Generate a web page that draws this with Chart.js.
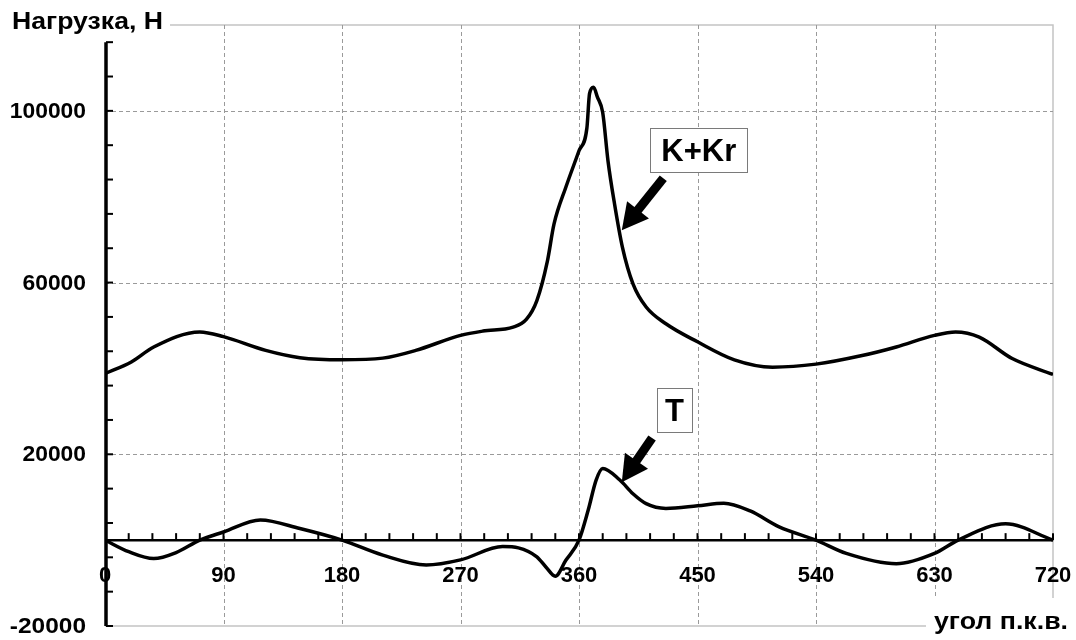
<!DOCTYPE html>
<html lang="ru">
<head>
<meta charset="UTF-8">
<title>Нагрузка, Н</title>
<style>
  html, body { margin: 0; padding: 0; background: #fff; }
  #wrap { width: 1076px; height: 640px; }
</style>
</head>
<body>
<div id="wrap"><canvas id="chart" width="1076" height="640"></canvas></div>

<script src="https://cdn.jsdelivr.net/npm/chart.js"></script>
<script>
// кривая K+Kr (угол п.к.в., градусы / нагрузка, Н)
const anglesKK = [0, 20, 37, 72, 90, 122, 148, 180, 211, 236, 270, 287, 310, 320, 328, 336, 341, 350, 360, 366, 368, 371, 374, 378, 382, 387, 393, 401, 411, 426, 450, 478, 507, 540, 575, 601, 630, 646, 664, 689, 720];
const valuesKK = [38800, 41500, 45000, 48500, 47400, 44200, 42500, 42000, 42400, 44200, 47700, 48700, 49600, 51400, 55800, 65000, 73600, 82200, 90700, 96000, 104000, 105500, 103200, 99600, 88400, 78300, 68200, 59700, 54300, 50400, 46200, 42000, 40300, 41000, 43000, 45000, 47700, 48500, 47300, 42300, 38600];

// кривая T
const anglesT = [0, 18, 37, 54, 72, 90, 118, 148, 180, 211, 244, 270, 302, 314, 328, 335, 342, 350, 360, 367, 373, 378, 391, 401, 411, 426, 450, 470, 490, 512, 540, 563, 601, 630, 648, 684, 720];
const valuesT = [0, -2700, -4300, -2900, 0, 1900, 4700, 2700, 0, -3500, -5800, -4600, -1500, -1800, -3900, -6300, -8400, -4700, 0, 7000, 14000, 16700, 14000, 10800, 8500, 7400, 8000, 8600, 6800, 3100, 0, -3100, -5500, -3100, 0, 3800, 0];

// оси
const xMin = 0, xMax = 720;
const yMin = -20000, yMax = 120000, yAxisTop = 116000;
const xTickLabels = [0, 90, 180, 270, 360, 450, 540, 630, 720];
const xGridValues = [90, 180, 270, 360, 450, 540, 630];
const yTickLabels = [-20000, 20000, 60000, 100000];
const yGridValues = [20000, 60000, 100000];
const xMinorStep = 18;
const yMinorStep = 8000;

// подписи
const yTitle = 'Нагрузка, Н';
const xTitle = 'угол п.к.в.';
const callouts = [
    { text: 'K+Kr', box: { x: 451, y: 90800 }, w: 97, h: 44, font: 31, from: { x: 424, y: 84300 }, to: { x: 392.5, y: 72200 } },
    { text: 'T', box: { x: 432.5, y: 30300 }, w: 35, h: 44, font: 31, from: { x: 415.5, y: 23800 }, to: { x: 392.5, y: 13500 } }
];

const FONT = '"Liberation Sans", Arial, sans-serif';

function toPoints(xs, ys) {
    return xs.map((x, i) => ({ x: x, y: ys[i] }));
}

// текст, растянутый по ширине
function fillWide(ctx, text, x, y, width, align) {
    const w = ctx.measureText(text).width;
    const k = width / w;
    ctx.save();
    ctx.textAlign = 'left';
    const left = align === 'right' ? x - width : x;
    ctx.translate(left, y);
    ctx.scale(k, 1);
    ctx.fillText(text, 0, 0);
    ctx.restore();
}

function drawArrow(ctx, x1, y1, x2, y2) {
    const ang = Math.atan2(y2 - y1, x2 - x1);
    const headLen = 26, headW = 14;
    const bx = x2 - headLen * Math.cos(ang);
    const by = y2 - headLen * Math.sin(ang);
    ctx.strokeStyle = '#000';
    ctx.fillStyle = '#000';
    ctx.lineWidth = 9;
    ctx.lineCap = 'butt';
    ctx.beginPath();
    ctx.moveTo(x1, y1);
    ctx.lineTo(bx + Math.cos(ang), by + Math.sin(ang));
    ctx.stroke();
    ctx.beginPath();
    ctx.moveTo(x2, y2);
    ctx.lineTo(bx + headW * Math.sin(ang), by - headW * Math.cos(ang));
    ctx.lineTo(bx - headW * Math.sin(ang), by + headW * Math.cos(ang));
    ctx.closePath();
    ctx.fill();
}

// сетка и рамка под кривыми, оси и подписи поверх
const gridPlugin = {
    id: 'gridPlugin',
    beforeDatasetsDraw(chart) {
        const ctx = chart.ctx;
        const area = chart.chartArea;
        const xs = chart.scales.x, ys = chart.scales.y;
        ctx.save();
        // рамка
        ctx.strokeStyle = '#c4c4c4';
        ctx.lineWidth = 1.5;
        ctx.setLineDash([]);
        ctx.beginPath();
        ctx.moveTo(area.left, area.top);
        ctx.lineTo(area.right, area.top);
        ctx.lineTo(area.right, area.bottom);
        ctx.lineTo(area.left, area.bottom);
        ctx.stroke();
        // пунктирная сетка
        ctx.strokeStyle = '#9a9a9a';
        ctx.lineWidth = 1;
        ctx.setLineDash([4, 3]);
        xGridValues.forEach(v => {
            const px = Math.round(xs.getPixelForValue(v)) + 0.5;
            ctx.beginPath();
            ctx.moveTo(px, area.top);
            ctx.lineTo(px, area.bottom);
            ctx.stroke();
        });
        yGridValues.forEach(v => {
            const py = Math.round(ys.getPixelForValue(v)) + 0.5;
            ctx.beginPath();
            ctx.moveTo(area.left, py);
            ctx.lineTo(area.right, py);
            ctx.stroke();
        });
        ctx.restore();
    },
    afterDatasetsDraw(chart) {
        const ctx = chart.ctx;
        const xs = chart.scales.x, ys = chart.scales.y;
        const x0 = xs.getPixelForValue(xMin);
        const y0 = ys.getPixelForValue(0);
        ctx.save();
        ctx.setLineDash([]);
        ctx.strokeStyle = '#000';

        // ось X по нулю
        ctx.lineWidth = 2.5;
        ctx.beginPath();
        ctx.moveTo(x0, y0);
        ctx.lineTo(xs.getPixelForValue(xMax), y0);
        ctx.stroke();
        ctx.lineWidth = 2;
        for (let v = xMin + xMinorStep; v <= xMax; v += xMinorStep) {
            const px = xs.getPixelForValue(v);
            ctx.beginPath();
            ctx.moveTo(px, y0);
            ctx.lineTo(px, y0 - 7);
            ctx.stroke();
        }

        // ось Y
        ctx.lineWidth = 3.5;
        ctx.beginPath();
        ctx.moveTo(x0 + 1, ys.getPixelForValue(yAxisTop));
        ctx.lineTo(x0 + 1, ys.getPixelForValue(yMin));
        ctx.stroke();
        ctx.lineWidth = 2;
        for (let v = yMin; v <= yAxisTop; v += yMinorStep) {
            const py = ys.getPixelForValue(v);
            ctx.beginPath();
            ctx.moveTo(x0 + 1, py);
            ctx.lineTo(x0 + 8, py);
            ctx.stroke();
        }

        // подписи делений
        ctx.fillStyle = '#000';
        ctx.font = 'bold 22px ' + FONT;
        ctx.textBaseline = 'middle';
        yTickLabels.forEach(v => {
            const s = String(v);
            fillWide(ctx, s, 86, ys.getPixelForValue(v) + 1, s.length * 12.7, 'right');
        });
        ctx.textAlign = 'center';
        xTickLabels.forEach(v => {
            ctx.fillText(String(v), xs.getPixelForValue(v), y0 + 36);
        });

        // заголовок оси Y
        ctx.fillStyle = '#fff';
        ctx.fillRect(0, 0, 170, 40);
        ctx.fillStyle = '#000';
        ctx.font = 'bold 23px ' + FONT;
        ctx.textBaseline = 'alphabetic';
        fillWide(ctx, yTitle, 12, 29, 151, 'left');

        // заголовок оси X
        ctx.fillStyle = '#fff';
        ctx.fillRect(926, 598, 150, 42);
        ctx.fillStyle = '#000';
        ctx.font = 'bold 24px ' + FONT;
        fillWide(ctx, xTitle, 1068, 629, 134, 'right');

        // выноски
        callouts.forEach(c => {
            const cx = xs.getPixelForValue(c.box.x);
            const cy = ys.getPixelForValue(c.box.y);
            ctx.fillStyle = '#fff';
            ctx.fillRect(cx - c.w / 2, cy - c.h / 2, c.w, c.h);
            ctx.strokeStyle = '#7a7a7a';
            ctx.lineWidth = 1;
            ctx.strokeRect(Math.round(cx - c.w / 2) + 0.5, Math.round(cy - c.h / 2) + 0.5, c.w, c.h);
            ctx.fillStyle = '#000';
            ctx.font = 'bold ' + c.font + 'px ' + FONT;
            ctx.textAlign = 'center';
            ctx.textBaseline = 'middle';
            ctx.fillText(c.text, cx, cy + 2);
            drawArrow(ctx,
                xs.getPixelForValue(c.from.x), ys.getPixelForValue(c.from.y),
                xs.getPixelForValue(c.to.x), ys.getPixelForValue(c.to.y));
        });
        ctx.restore();
    }
};

const lineStyle = {
    borderColor: '#000',
    borderWidth: 3.5,
    pointRadius: 0,
    fill: false,
    cubicInterpolationMode: 'monotone'
};

new Chart(document.getElementById('chart'), {
    type: 'line',
    data: {
        datasets: [
            Object.assign({ label: 'K+Kr', data: toPoints(anglesKK, valuesKK) }, lineStyle),
            Object.assign({ label: 'T', data: toPoints(anglesT, valuesT) }, lineStyle)
        ]
    },
    options: {
        responsive: false,
        animation: false,
        devicePixelRatio: 1,
        layout: { padding: { left: 105, right: 23, top: 25, bottom: 14 } },
        plugins: {
            legend: { display: false },
            tooltip: { enabled: false }
        },
        scales: {
            x: { type: 'linear', min: xMin, max: xMax, display: false },
            y: { type: 'linear', min: yMin, max: yMax, display: false }
        }
    },
    plugins: [gridPlugin]
});
</script>
</body>
</html>
